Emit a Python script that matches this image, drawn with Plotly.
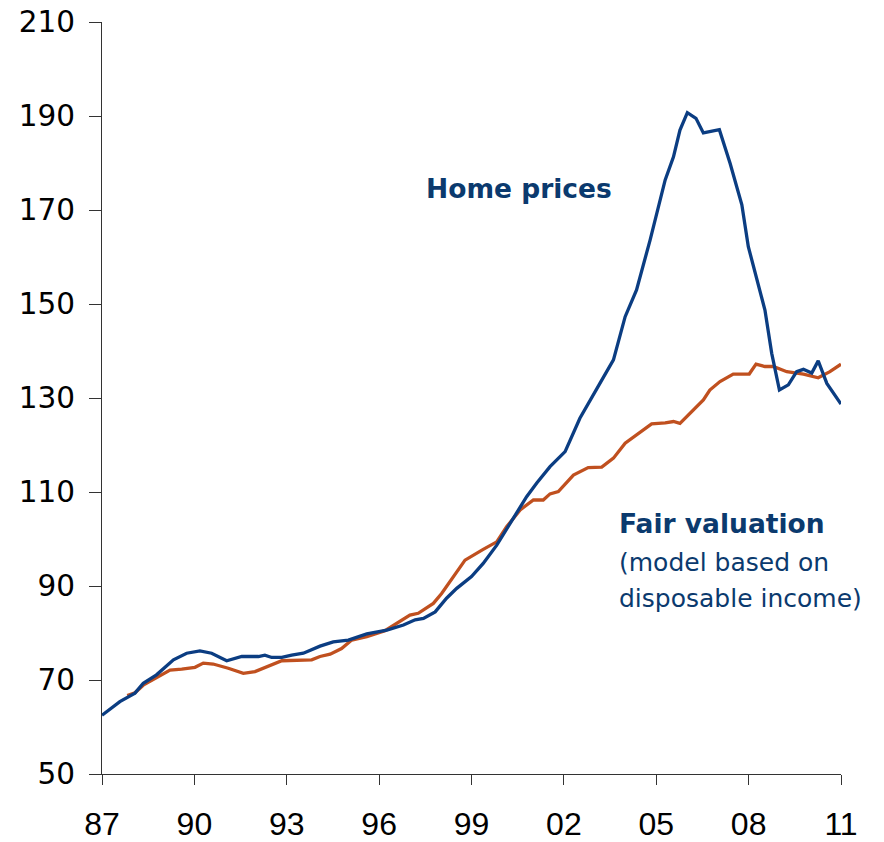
import plotly.graph_objects as go

# Home prices (decimal year, index)
home_years = [1987.00, 1987.58, 1988.07, 1988.34, 1988.77, 1989.32, 1989.75, 1990.18, 1990.56,
              1991.05, 1991.54, 1992.08, 1992.29, 1992.51, 1992.84, 1993.16, 1993.54, 1993.81,
              1994.08, 1994.51, 1995.00, 1995.60, 1996.25, 1996.79, 1997.17, 1997.44, 1997.82,
              1998.19, 1998.52, 1999.00, 1999.38, 1999.82, 2000.25, 2000.79, 2001.12, 2001.55,
              2002.04, 2002.52, 2003.17, 2003.61, 2003.99, 2004.36, 2004.80, 2005.07, 2005.29,
              2005.56, 2005.77, 2006.01, 2006.29, 2006.53, 2007.05, 2007.40, 2007.78, 2007.99,
              2008.26, 2008.53, 2008.75, 2009.00, 2009.29, 2009.56, 2009.78, 2010.05, 2010.26,
              2010.54, 2011.00]
home_values = [62.5, 65.4, 67.2, 69.3, 71.1, 74.3, 75.7, 76.2, 75.7,
               74.1, 75.0, 75.0, 75.3, 74.8, 74.8, 75.3, 75.7, 76.4,
               77.2, 78.1, 78.5, 79.8, 80.6, 81.7, 82.8, 83.1, 84.5,
               87.4, 89.5, 92.0, 94.8, 98.7, 103.3, 109.0, 111.9, 115.4,
               118.6, 125.7, 133.1, 138.1, 147.3, 153.0, 163.6, 170.7, 176.4,
               181.3, 187.0, 190.7, 189.5, 186.4, 187.1, 179.9, 171.1, 162.2,
               155.1, 148.7, 139.5, 131.7, 132.8, 135.6, 136.1, 135.3, 137.9,
               133.1, 128.7]

# Fair valuation (decimal year, index)
fair_years = [1987.82, 1988.07, 1988.34, 1988.83, 1989.21, 1989.59, 1990.02, 1990.29, 1990.61,
              1991.10, 1991.59, 1991.97, 1992.40, 1992.84, 1993.81, 1994.08, 1994.41, 1994.78,
              1995.11, 1995.60, 1996.19, 1996.57, 1997.00, 1997.27, 1997.76, 1998.03, 1998.41,
              1998.79, 1999.38, 1999.82, 2000.14, 2000.58, 2001.01, 2001.33, 2001.55, 2001.82,
              2002.31, 2002.79, 2003.23, 2003.61, 2003.99, 2004.36, 2004.85, 2005.29, 2005.56,
              2005.77, 2006.15, 2006.53, 2006.74, 2007.07, 2007.50, 2008.02, 2008.24, 2008.53,
              2008.80, 2009.24, 2009.78, 2010.26, 2010.64, 2011.00]
fair_values = [66.7, 67.3, 68.9, 70.7, 72.1, 72.3, 72.7, 73.6, 73.4,
               72.5, 71.4, 71.8, 73.0, 74.1, 74.3, 75.0, 75.5, 76.7,
               78.5, 79.2, 80.5, 82.1, 83.8, 84.2, 86.3, 88.4, 92.0,
               95.5, 97.8, 99.4, 102.6, 106.2, 108.3, 108.3, 109.6, 110.1,
               113.6, 115.2, 115.3, 117.2, 120.4, 122.1, 124.5, 124.7, 125.0,
               124.6, 127.1, 129.6, 131.7, 133.5, 135.1, 135.1, 137.2, 136.7,
               136.7, 135.6, 135.1, 134.3, 135.6, 137.2]

x_tick_vals = [1987, 1990, 1993, 1996, 1999, 2002, 2005, 2008, 2011]
x_tick_text = ["87", "90", "93", "96", "99", "02", "05", "08", "11"]
y_tick_vals = [50, 70, 90, 110, 130, 150, 170, 190, 210]

BLUE = "#0B3D82"
ORANGE = "#C0501F"
TEXT_BLUE = "#0B3A6E"

fig = go.Figure()
fig.add_trace(go.Scatter(x=fair_years, y=fair_values, mode="lines",
                         line=dict(color=ORANGE, width=3.3), name="Fair valuation"))
fig.add_trace(go.Scatter(x=home_years, y=home_values, mode="lines",
                         line=dict(color=BLUE, width=3.3), name="Home prices"))

fig.add_annotation(x=1997.46, y=174.5, text="<b>Home prices</b>", showarrow=False,
                   xanchor="left", yanchor="middle",
                   font=dict(family="DejaVu Sans", size=26.5, color=TEXT_BLUE))
fig.add_annotation(x=2003.73, y=103.2, text="<b>Fair valuation</b>", showarrow=False,
                   xanchor="left", yanchor="middle",
                   font=dict(family="DejaVu Sans", size=26.5, color=TEXT_BLUE))
fig.add_annotation(x=2003.73, y=94.9, text="(model based on", showarrow=False,
                   xanchor="left", yanchor="middle",
                   font=dict(family="DejaVu Sans", size=25, color=TEXT_BLUE))
fig.add_annotation(x=2003.73, y=87.4, text="disposable income)", showarrow=False,
                   xanchor="left", yanchor="middle",
                   font=dict(family="DejaVu Sans", size=25, color=TEXT_BLUE))

fig.update_layout(
    width=884, height=842,
    margin=dict(l=102, r=43, t=22, b=68, autoexpand=False),
    paper_bgcolor="white", plot_bgcolor="white",
    showlegend=False,
)
fig.update_xaxes(range=[1987, 2011], tickvals=x_tick_vals, ticktext=x_tick_text,
                 automargin=False, ticklabeloverflow="allow",
                 showgrid=False, zeroline=False, showline=True, linecolor="#333333",
                 linewidth=1, ticks="outside", ticklen=10, tickcolor="#333333",
                 ticklabelstandoff=12,
                 tickfont=dict(family="Liberation Sans Narrow, Arial Narrow, sans-serif",
                               size=32, color="black"))
fig.update_yaxes(range=[50, 210], tickvals=y_tick_vals,
                 automargin=False, ticklabeloverflow="allow",
                 showgrid=False, zeroline=False, showline=True, linecolor="#333333",
                 linewidth=1, ticks="outside", ticklen=12, tickcolor="#333333",
                 ticklabelstandoff=8,
                 tickfont=dict(family="DejaVu Sans", size=29.5, color="black"))

fig.write_html("out.html", config={"displayModeBar": False},
               post_script="document.body.style.margin='0';")
